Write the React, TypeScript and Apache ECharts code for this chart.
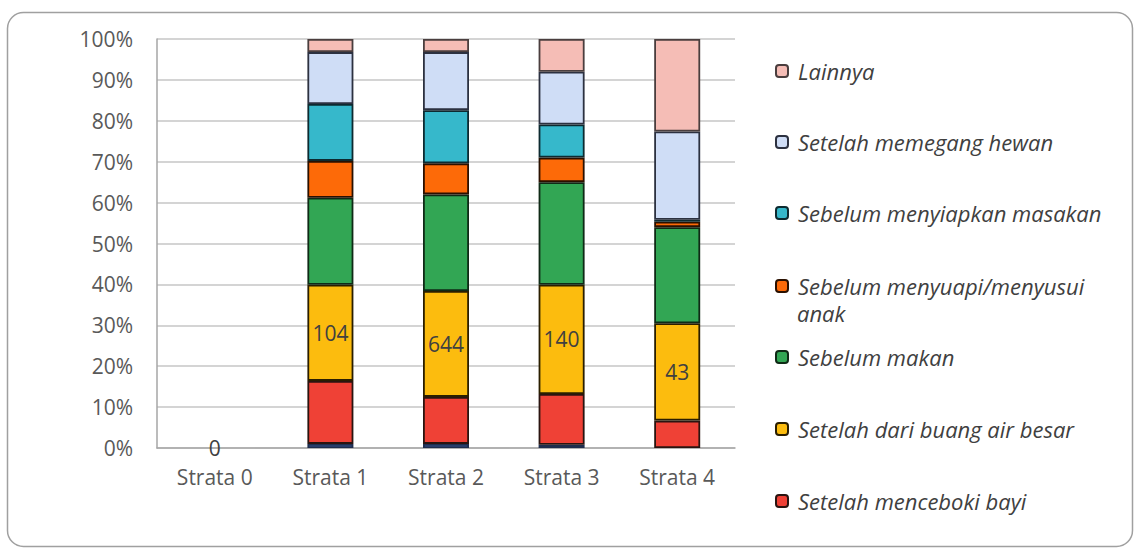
import React, { useEffect, useRef } from "react";
import * as echarts from "echarts";

const categories = ["Strata 0", "Strata 1", "Strata 2", "Strata 3", "Strata 4"];
const lainBawah = [0, 1.0, 1.0, 0.8, 0];
const menceboki = [0, 15.4, 11.5, 12.4, 6.7];
const buangAirBesar = [0, 23.5, 25.9, 26.7, 23.8];
const sebelumMakan = [0, 21.3, 23.6, 25.1, 23.5];
const menyuapi = [0, 9.0, 7.6, 6.0, 1.3];
const menyiapkanMasakan = [0, 13.9, 13.0, 8.1, 0.5];
const memegangHewan = [0, 12.7, 14.2, 12.9, 21.6];
const lainnya = [0, 3.2, 3.2, 8.0, 22.6];
const sampleSizes = [0, 104, 644, 140, 43];
const yTicks = [0, 10, 20, 30, 40, 50, 60, 70, 80, 90, 100];

const FONT = "'Open Sans', sans-serif";

const seriesDefs = [
  { name: "Lain (bawah)", data: lainBawah, color: "#4472c4", border: "#1f2d4d" },
  { name: "Setelah menceboki bayi", data: menceboki, color: "#ef4136", border: "#2a1410" },
  { name: "Setelah dari buang air besar", data: buangAirBesar, color: "#fcbc0e", border: "#2a1e00" },
  { name: "Sebelum makan", data: sebelumMakan, color: "#32a654", border: "#0f2a16" },
  { name: "Sebelum menyuapi/menyusui anak", data: menyuapi, color: "#fd6a08", border: "#2a1000" },
  { name: "Sebelum menyiapkan masakan", data: menyiapkanMasakan, color: "#36b8cb", border: "#0d2a30" },
  { name: "Setelah memegang hewan", data: memegangHewan, color: "#cfddf6", border: "#2c3140" },
  { name: "Lainnya", data: lainnya, color: "#f5bdb6", border: "#4a3e3e" },
];

const legendOrder = [
  { name: "Lainnya", y: 71 },
  { name: "Setelah memegang hewan", y: 142 },
  { name: "Sebelum menyiapkan masakan", y: 213 },
  { name: "Sebelum menyuapi/menyusui anak", y: 286, label: "Sebelum menyuapi/menyusui" },
  { name: "Sebelum makan", y: 357 },
  { name: "Setelah dari buang air besar", y: 429 },
  { name: "Setelah menceboki bayi", y: 501 },
];

export default function App() {
  const ref = useRef<HTMLDivElement>(null);
  useEffect(() => {
    if (!ref.current) return;
    const chart = echarts.init(ref.current, null, { renderer: "svg" });
    const series = seriesDefs.map((s) => ({
      name: s.name,
      type: "bar",
      stack: "total",
      barWidth: 46,
      data: s.data.map((v) =>
        v === 0 ? { value: 0, itemStyle: { borderWidth: 0 } } : v
      ),
      itemStyle: { color: s.color, borderColor: s.border, borderWidth: 1.8 },
      label:
        s.name === "Setelah dari buang air besar"
          ? {
              show: true,
              position: "inside",
              formatter: (p: any) => String(sampleSizes[p.dataIndex]),
              color: "#404040",
              fontFamily: FONT,
              fontSize: 21,
            }
          : { show: false },
    }));

    const legends = legendOrder.map((l) => ({
      data: [l.name],
      orient: "vertical",
      left: 775,
      top: l.y - 12,
      padding: 0,
      itemWidth: 12,
      itemHeight: 12,
      formatter: () => l.label || l.name,
      textStyle: {
        fontFamily: FONT,
        fontStyle: "italic",
        fontSize: 22,
        color: "#404040",
        lineHeight: 24,
        padding: [0, 0, 0, 5],
      },
    }));

    chart.setOption({
      animation: false,
      backgroundColor: "#ffffff",
      grid: { left: 157, top: 39, width: 578, height: 409 },
      xAxis: {
        type: "category",
        data: categories,
        axisLine: { lineStyle: { color: "#a6a6a6", width: 1.5 } },
        axisTick: { show: false },
        axisLabel: { color: "#595959", fontFamily: FONT, fontSize: 21, margin: 18 },
      },
      yAxis: {
        type: "value",
        min: yTicks[0],
        max: yTicks[yTicks.length - 1],
        interval: 10,
        axisLine: { show: true, lineStyle: { color: "#a6a6a6", width: 1.5 } },
        axisTick: { show: false },
        splitLine: { lineStyle: { color: "#c6c6c6", width: 1.5 } },
        axisLabel: {
          color: "#595959",
          fontFamily: FONT,
          fontSize: 21,
          margin: 24,
          formatter: "{value}%",
        },
      },
      legend: legends,
      series,
      graphic: [
        {
          type: "rect",
          shape: { x: 7.5, y: 12.5, width: 1125, height: 534, r: 16 },
          style: { fill: "none", stroke: "#a0a0a0", lineWidth: 1.5 },
          z: -1,
        },
        {
          type: "text",
          left: 797,
          top: 302,
          style: {
            text: "anak",
            font: `italic 22px ${FONT}`,
            lineHeight: 22,
            fill: "#404040",
          },
        },
      ],
    });
    return () => chart.dispose();
  }, []);
  return (
    <div
      ref={ref}
      style={{ position: "fixed", left: 0, top: 0, width: 1135, height: 549 }}
    />
  );
}
